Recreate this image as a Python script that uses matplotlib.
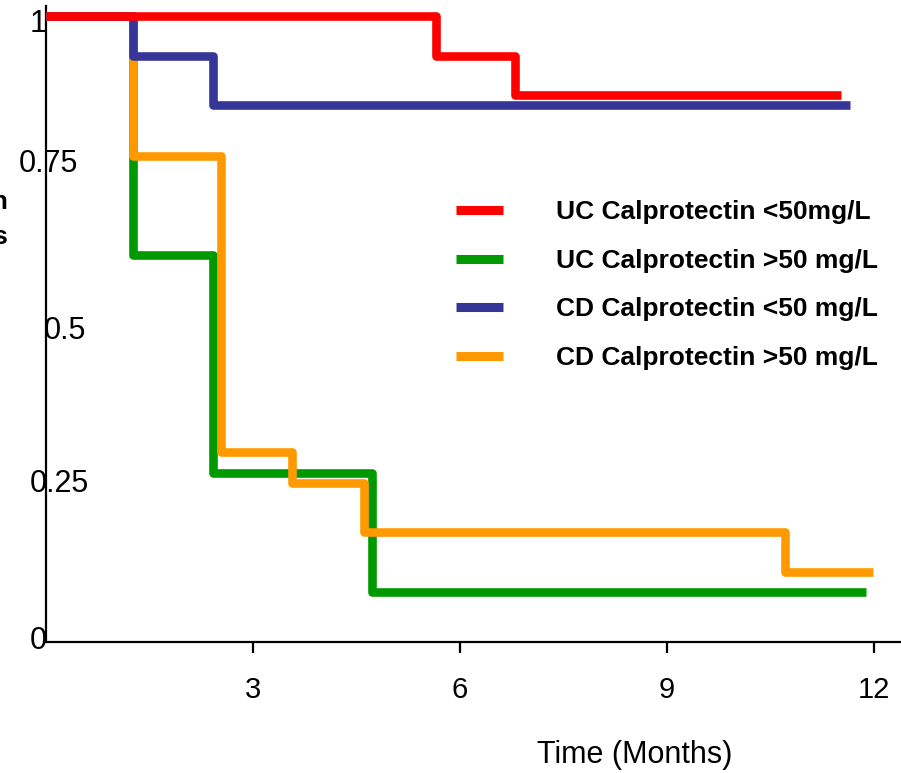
import matplotlib
matplotlib.use('Agg')
import matplotlib.pyplot as plt
from matplotlib.transforms import ScaledTranslation

plt.rcParams['font.family'] = ['Liberation Sans', 'DejaVu Sans']

# Kaplan-Meier style step data (months, proportion)
uc_low_t = [0, 5.65, 6.80, 11.52]
uc_low_s = [1.0, 0.936, 0.874, 0.874]

uc_high_t = [0, 1.265, 2.42, 4.73, 11.88]
uc_high_s = [1.0, 0.619, 0.269, 0.079, 0.079]

cd_low_t = [0, 1.265, 2.42, 11.65]
cd_low_s = [1.0, 0.936, 0.858, 0.858]

cd_high_t = [0, 1.265, 2.54, 3.57, 4.61, 10.71, 11.99]
cd_high_s = [1.0, 0.777, 0.303, 0.254, 0.175, 0.111, 0.111]

labels = ['UC Calprotectin <50mg/L', 'UC Calprotectin >50 mg/L',
          'CD Calprotectin <50 mg/L', 'CD Calprotectin >50 mg/L']
x_ticks = [3, 6, 9, 12]
y_ticks = [0, 0.25, 0.5, 0.75, 1]
y_tick_labels = ['0', '0.25', '0.5', '0.75', '1']

# the y tick labels sit a little irregularly in the original (pixel nudges)
y_label_dx = [-8, 13, 19, 2, -8]
y_label_dy = [4.5, 5, 1, 12.6, -4]

fig = plt.figure(figsize=(9.01, 7.73), dpi=100)
ax = fig.add_axes([0.0511, 0.1701, 0.9489, 0.8221])

lw = 6.2
l_green, = ax.plot(uc_high_t, uc_high_s, drawstyle='steps-post', color='#009900', lw=lw,
                   solid_capstyle='butt', zorder=2)
l_orange, = ax.plot(cd_high_t, cd_high_s, drawstyle='steps-post', color='#ff9900', lw=lw,
                    solid_capstyle='butt', zorder=3)
l_blue, = ax.plot(cd_low_t, cd_low_s, drawstyle='steps-post', color='#363699', lw=lw,
                  solid_capstyle='butt', zorder=4)
l_red, = ax.plot(uc_low_t, uc_low_s, drawstyle='steps-post', color='#ff0000', lw=lw,
                 solid_capstyle='butt', zorder=5)

ax.set_xlim(0, 12.39)
ax.set_ylim(0, 1.0165)

for s in ['top', 'right']:
    ax.spines[s].set_visible(False)
for s in ['left', 'bottom']:
    ax.spines[s].set_linewidth(1.6)
    ax.spines[s].set_zorder(1)

ax.set_xticks(x_ticks)
ax.set_xticklabels([str(t) for t in x_ticks])
ax.tick_params(axis='x', direction='out', length=8, width=1.6, pad=17, labelsize=21)
ax.set_yticks(y_ticks)
ax.set_yticklabels(y_tick_labels)
ax.tick_params(axis='y', length=0, pad=0, labelsize=22)
for lab, dx, dy in zip(ax.get_yticklabels(), y_label_dx, y_label_dy):
    lab.set_horizontalalignment('center')
    lab.set_transform(lab.get_transform() +
                      ScaledTranslation(dx / 100, dy / 100, fig.dpi_scale_trans))

ax.set_xlabel('Time (Months)', fontsize=22)
ax.xaxis.set_label_coords(0.688, -0.1555)

fig.text(8 / 901, 0.716, 'Proportion in\nremission of patients', ha='right', va='center',
         multialignment='right', fontsize=19, fontweight='bold', linespacing=1.55)

leg = ax.legend([l_red, l_green, l_blue, l_orange], labels, loc='upper left',
                bbox_to_anchor=(456 / 901, 0.741), bbox_transform=fig.transFigure,
                frameon=False, borderpad=0, borderaxespad=0, handlelength=1.78,
                handletextpad=2.0, labelspacing=0.93,
                prop={'size': 19, 'weight': 'bold'})
for h in leg.legend_handles:
    h.set_linewidth(6.5)

fig.savefig('out.png', dpi=100)
